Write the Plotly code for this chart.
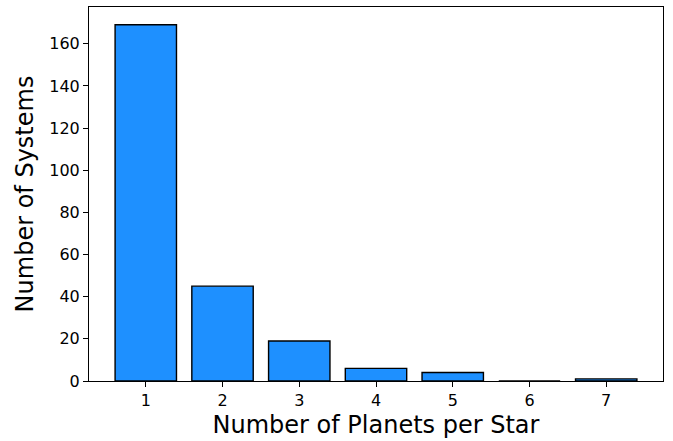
import plotly.graph_objects as go

planets = [1, 2, 3, 4, 5, 6, 7]
systems = [169, 45, 19, 6, 4, 0, 1]
y_ticks = [0, 20, 40, 60, 80, 100, 120, 140, 160]
x_title = "Number of Planets per Star"
y_title = "Number of Systems"

fig = go.Figure(go.Bar(
    x=planets, y=systems, width=0.8,
    marker=dict(color="#1E90FF", line=dict(color="black", width=1.4)),
))

axis_common = dict(
    showline=True, linecolor="black", linewidth=1, mirror=True,
    ticks="outside", ticklen=5, tickwidth=1, tickcolor="black",
    showgrid=False, zeroline=False, automargin=False,
    tickfont=dict(family="DejaVu Sans", size=16, color="black"),
)

fig.update_layout(
    width=673, height=441,
    margin=dict(l=89, r=10, t=7, b=60),
    plot_bgcolor="white", paper_bgcolor="white",
    showlegend=False,
    xaxis=dict(range=[0.26, 7.74], tickvals=planets,
               title=dict(text=x_title, font=dict(family="DejaVu Sans", size=24, color="black"), standoff=6),
               **axis_common),
    yaxis=dict(range=[0, 177.45], tickvals=y_ticks,
               title=dict(text=y_title, font=dict(family="DejaVu Sans", size=24, color="black"), standoff=8),
               **axis_common),
)

fig.write_html("out.html", config={"displayModeBar": False},
               post_script="document.body.style.margin='0';document.body.style.overflow='hidden';")
